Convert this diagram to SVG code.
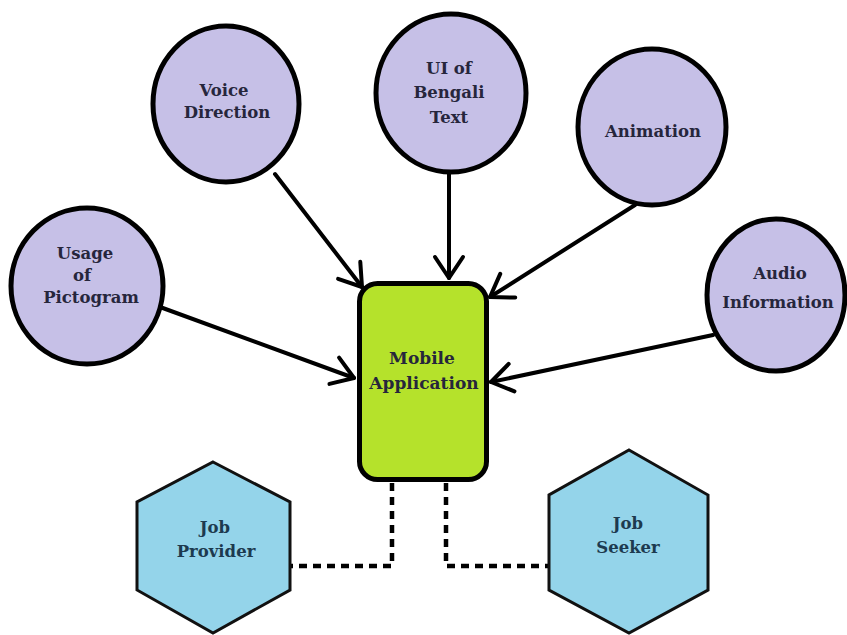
<svg xmlns="http://www.w3.org/2000/svg" width="847" height="635" viewBox="0 0 847 635">
<style>
.c{fill:#c6c0e7;stroke:#000;stroke-width:5}
.h{fill:#94d4ea;stroke:#111;stroke-width:3}
.t{font-family:"DejaVu Serif","Liberation Serif",serif;font-weight:bold;font-size:16.5px;fill:#26263c;text-anchor:middle}
.ht{fill:#1d3a4f}
.a{stroke:#000;stroke-width:4;fill:none;stroke-linecap:round}
.d{stroke:#000;stroke-width:4.5;fill:none;stroke-dasharray:8 6}
</style>
<defs>
<marker id="ah" markerUnits="userSpaceOnUse" markerWidth="40" markerHeight="40" viewBox="-30 -20 40 40" refX="0" refY="0" orient="auto">
<path d="M-21,-14 L0,0 L-21,14" fill="none" stroke="#000" stroke-width="4" stroke-linecap="round" stroke-linejoin="round"/>
</marker>
</defs>
<rect width="847" height="635" fill="#fff"/>
<g id="connectors">
<line class="a" x1="275" y1="174" x2="362" y2="287" marker-end="url(#ah)"/>
<line class="a" x1="449" y1="173" x2="449" y2="278" marker-end="url(#ah)"/>
<line class="a" x1="635" y1="205" x2="490" y2="297" marker-end="url(#ah)"/>
<line class="a" x1="160" y1="307" x2="354" y2="378" marker-end="url(#ah)"/>
<line class="a" x1="713" y1="335" x2="491" y2="382" marker-end="url(#ah)"/>
<polyline class="d" points="392,483 392,566 290,566"/>
<polyline class="d" points="446,483 446,566 549,566"/>
</g>
<g id="voice">
<ellipse class="c" cx="226" cy="104" rx="73" ry="78"/>
<text class="t" x="224" y="96">Voice</text>
<text class="t" x="227" y="118">Direction</text>
</g>
<g id="ui">
<ellipse class="c" cx="451" cy="93" rx="75" ry="79"/>
<text class="t" x="449" y="74">UI of</text>
<text class="t" x="449" y="98">Bengali</text>
<text class="t" x="449" y="123">Text</text>
</g>
<g id="animation">
<ellipse class="c" cx="652" cy="127" rx="74" ry="78"/>
<text class="t" x="653" y="137">Animation</text>
</g>
<g id="usage">
<ellipse class="c" cx="87" cy="286" rx="76" ry="78"/>
<text class="t" x="85" y="259">Usage</text>
<text class="t" x="82" y="281">of</text>
<text class="t" x="91" y="303">Pictogram</text>
</g>
<g id="audio">
<ellipse class="c" cx="776" cy="295" rx="69" ry="76"/>
<text class="t" x="780" y="279">Audio</text>
<text class="t" x="778" y="308">Information</text>
</g>
<g id="mobile">
<rect x="359.5" y="283.5" width="127" height="196" rx="18" fill="#b5e22b" stroke="#000" stroke-width="5"/>
<text class="t" x="422" y="364" style="font-size:17px">Mobile</text>
<text class="t" x="424" y="389" style="font-size:17px">Application</text>
</g>
<g id="provider">
<polygon class="h" points="213,462 290,502 290,590 213,633 137,590 137,502"/>
<text class="t ht" x="215" y="533">Job</text>
<text class="t ht" x="216" y="557">Provider</text>
</g>
<g id="seeker">
<polygon class="h" points="629,450 708,495 708,590 629,633 549,590 549,495"/>
<text class="t ht" x="628" y="529">Job</text>
<text class="t ht" x="628" y="553">Seeker</text>
</g>
</svg>
